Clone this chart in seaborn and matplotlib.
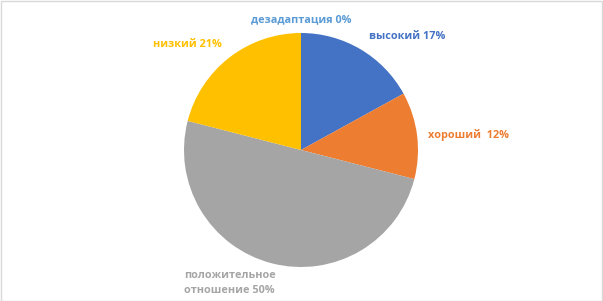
import matplotlib
matplotlib.use("Agg")
import matplotlib.pyplot as plt
import seaborn as sns
from matplotlib.patches import Rectangle

categories = ["высокий", "хороший", "положительное\nотношение", "низкий", "дезадаптация"]
values = [17, 12, 50, 21, 0]
label_texts = ["высокий 17%", "хороший  12%", "положительное\nотношение 50%", "низкий 21%", "дезадаптация 0%"]

colors = ["#4472C4", "#ED7D31", "#A5A5A5", "#FFC000", "#5B9BD5"]
# label positions in pie-radius units (layout only)
label_pos = [(0.91, 0.97), (1.43, 0.13), (-0.61, -1.14), (-0.97, 0.90), (0.0, 1.11)]

sns.set_theme(style="white")
plt.rcParams["font.family"] = ["Open Sans", "DejaVu Sans"]

W, H, DPI = 6.03, 3.01, 100
fig = plt.figure(figsize=(W, H), dpi=DPI)
fig.patch.set_facecolor("white")
ax = fig.add_axes([0, 0, 1, 1])

R = 117.0
cx, cy = 301.0, 151.0
ax.pie(values, colors=colors, startangle=90, counterclock=False, radius=1.0,
       wedgeprops=dict(linewidth=0))
ax.set_xlim(-cx / R, (603 - cx) / R)
ax.set_ylim(-cy / R, (301 - cy) / R)
ax.set_aspect("equal")
ax.axis("off")

for txt, (x, y), c in zip(label_texts, label_pos, colors):
    ax.text(x, y, txt, color=c, fontsize=7.8, fontweight="bold",
            ha="center", va="center", linespacing=1.5)

fig.patches.append(Rectangle((0.5 / 603, 0.5 / 301), 1 - 1.5 / 603, 1 - 1.5 / 301,
                             transform=fig.transFigure, fill=False,
                             edgecolor="#D9D9D9", linewidth=1))
fig.savefig("out.png", dpi=DPI, facecolor="white")
